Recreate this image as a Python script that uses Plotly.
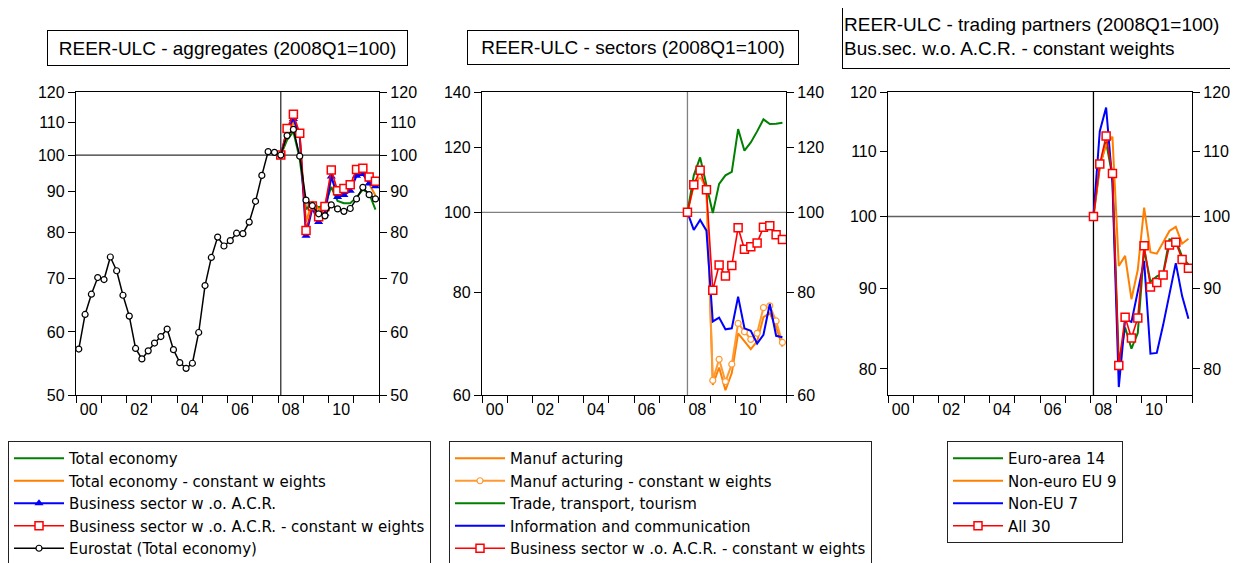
import plotly.graph_objects as go
import math

FONT = "Liberation Sans, Arial, sans-serif"
LEGFONT = "DejaVu Sans, Liberation Sans, sans-serif"
# the page body adds an 8px margin, so the figure is drawn 8px smaller and all
# pixel positions below are measured from the page origin minus that offset
OFF = 8
W, H = 1238 - OFF, 563 - OFF

# ---------------- data ----------------
quarters_all = [f"{y}Q{q}" for y in range(2000, 2012) for q in range(1, 5)]
quarters_post = quarters_all[32:]  # 2008Q1 .. 2011Q4

# Panel 1: REER-ULC aggregates
eurostat_total = [57.1, 63.1, 66.9, 70.2, 69.8, 74.5, 71.6, 66.7, 62.8, 57.2, 55.5, 56.8,
                  58.1, 59.2, 60.5, 57.0, 54.9, 54.0, 54.8, 59.9, 68.6, 74.4, 78.9, 76.9,
                  78.1, 79.8, 79.7, 82.4, 87.5, 94.3, 101.0, 100.8, 100.0, 105.8, 107.7, 99.7,
                  87.8, 86.4, 84.4, 83.9, 86.6, 85.6, 85.0, 85.7, 88.1, 91.1, 89.2, 88.1]
total_economy = [100, 104.5, 107.0, 99.0, 85.5, 87.0, 86.0, 86.5, 91.2, 87.6, 87.0, 87.0,
                 88.5, 90.5, 89.5, 85.4]
total_economy_cw = [100, 106.0, 110.0, 105.5, 82.5, 87.5, 85.5, 86.5, 93.5, 90.5, 91.0, 91.0,
                    94.5, 95.0, 92.0, 89.0]
business = [100, 107.5, 111.0, 106.0, 79.2, 85.8, 82.4, 84.4, 94.0, 88.6, 89.1, 90.2,
            94.2, 94.7, 92.1, 91.4]
business_cw = [100, 108.0, 112.5, 106.5, 80.4, 86.3, 83.7, 86.2, 95.8, 90.2, 90.8, 91.8,
               95.9, 96.3, 93.9, 92.7]

# Panel 2: REER-ULC sectors
manufacturing = [100, 108.0, 110.5, 107.0, 61.7, 64.8, 60.8, 63.8, 71.3, 69.7, 68.2, 69.7,
                 74.6, 75.4, 72.6, 68.7]
manufacturing_cw = [100, 108.5, 111.0, 106.5, 62.5, 66.3, 62.3, 65.4, 73.3, 71.6, 70.1, 71.3,
                    76.6, 77.0, 73.8, 69.5]
trade_transport = [100, 110.9, 116.6, 107.5, 99.8, 108.3, 110.9, 112.0, 126.2, 118.8, 121.6, 125.4,
                   129.7, 128.0, 128.1, 128.5]
info_comm = [100, 95.2, 97.9, 95.0, 73.7, 74.5, 72.1, 72.3, 79.0, 72.3, 71.8, 69.3,
             71.0, 77.4, 70.8, 70.5]

# Panel 3: trading partners (business sector w.o. A.C.R., constant weights)
euro_area_14 = [100, 107.5, 111.5, 106.0, 80.6, 85.0, 82.4, 84.3, 95.3, 90.9, 91.6, 92.0,
                96.7, 96.6, 94.3, 93.2]
non_euro_eu_9 = [100, 107.8, 111.0, 112.4, 93.0, 94.4, 88.6, 92.5, 101.3, 94.9, 94.7, 96.3,
                 97.9, 98.5, 96.1, 96.8]
non_eu_7 = [100, 113.3, 117.3, 105.0, 77.9, 86.0, 85.7, 89.4, 93.7, 81.8, 81.9, 85.3,
            89.2, 93.4, 89.0, 86.1]
all_30 = business_cw

year_ticks = list(range(2000, 2013))
label_years = list(range(2000, 2012, 2))
y_ticks = [[50, 60, 70, 80, 90, 100, 110, 120], [60, 80, 100, 120, 140], [80, 90, 100, 110, 120]]
y_ranges = [(50, 120), (60, 140), (77.0, 120)]
titles = ["REER-ULC - aggregates (2008Q1=100)",
          "REER-ULC - sectors (2008Q1=100)",
          "REER-ULC - trading partners (2008Q1=100)<br>Bus.sec. w.o. A.C.R. - constant weights"]


def qpos(label):
    y = int(label[:4]); q = int(label[-1])
    return y + (q - 1) / 4 + 0.11


x_all = [qpos(q) for q in quarters_all]
x_post = [qpos(q) for q in quarters_post]
x_ref = qpos("2008Q1")

GREEN, ORANGE, ORANGE2, BLUE, RED, BLACK = "#008000", "#FF8000", "#FF9A33", "#0000FF", "#FF0000", "#000000"

fig = go.Figure()


def ax_names(ax):
    s = "" if ax == 1 else str(ax)
    return f"x{s}", f"y{s}"


def add(name, x, y, ax, color, legend, width=2.0, marker=None):
    xa, ya = ax_names(ax)
    kw = dict(x=x, y=y, name=name, mode="lines+markers" if marker else "lines",
              xaxis=xa, yaxis=ya, legend=legend, line=dict(color=color, width=width))
    if marker:
        kw["marker"] = marker
    fig.add_trace(go.Scatter(**kw))


sq = dict(symbol="square", size=8, color="white", line=dict(color=RED, width=1.5))
# panel 1
add("Total economy", x_post, total_economy, 1, GREEN, "legend")
add("Total economy - constant w eights", x_post, total_economy_cw, 1, ORANGE, "legend")
add("Business sector w .o. A.C.R.", x_post, business, 1, BLUE, "legend",
    marker=dict(symbol="triangle-up", size=8, color=BLUE))
add("Business sector w .o. A.C.R. - constant w eights", x_post, business_cw, 1, RED, "legend",
    width=1.6, marker=sq)
add("Eurostat (Total economy)", x_all, eurostat_total, 1, BLACK, "legend", width=1.5,
    marker=dict(symbol="circle", size=6, color="white", line=dict(color=BLACK, width=1.2)))
# panel 2
add("Manuf acturing", x_post, manufacturing, 2, ORANGE, "legend2")
add("Manuf acturing - constant w eights", x_post, manufacturing_cw, 2, ORANGE2, "legend2",
    marker=dict(symbol="circle", size=6, color="white", line=dict(color=ORANGE2, width=1.2)))
add("Trade, transport, tourism", x_post, trade_transport, 2, GREEN, "legend2")
add("Information and communication", x_post, info_comm, 2, BLUE, "legend2")
add("Business sector w .o. A.C.R. - constant w eights", x_post, business_cw, 2, RED, "legend2",
    width=1.6, marker=sq)
# panel 3
add("Euro-area 14", x_post, euro_area_14, 3, GREEN, "legend3")
add("Non-euro EU 9", x_post, non_euro_eu_9, 3, ORANGE, "legend3")
add("Non-EU 7", x_post, non_eu_7, 3, BLUE, "legend3")
add("All 30", x_post, all_30, 3, RED, "legend3", width=1.6, marker=sq)

# transparent copies so that the right-hand (mirror) value axes are drawn
for n, series in zip((1, 2, 3), (business_cw, business_cw, all_30)):
    xa, _ = ax_names(n)
    fig.add_trace(go.Scatter(x=x_post, y=series, xaxis=xa, yaxis=f"y{n + 3}", mode="lines",
                             opacity=0, showlegend=False, hoverinfo="skip"))

# ---------------- layout ----------------
panels_px = [(76, 379), (482, 786), (888, 1192)]
top_px, bot_px = 92, 395
ydom = [1 - (bot_px - OFF) / H, 1 - (top_px - OFF) / H]
tickfont = dict(family=FONT, size=16, color="black")

layout = dict(width=W, height=H, autosize=False,
              margin=dict(l=0, r=0, t=0, b=0, autoexpand=False),
              paper_bgcolor="white", plot_bgcolor="white", showlegend=True)
shapes = []
annotations = []
for i, (x0, x1) in enumerate(panels_px):
    n = i + 1
    sfx = "" if n == 1 else str(n)
    lo, hi = y_ranges[i]
    yr = [math.log10(lo), math.log10(hi)]
    layout[f"xaxis{sfx}"] = dict(
        domain=[(x0 - OFF) / W, (x1 - OFF) / W], anchor=f"y{sfx}", range=[2000, 2012],
        tickmode="array", tickvals=[y + 0.5 for y in label_years],
        ticktext=[f"{y % 100:02d}" for y in label_years], ticks="", tickfont=tickfont,
        showline=True, linecolor="black", linewidth=1.3, mirror=True, showgrid=False,
        zeroline=False,
        minor=dict(tickmode="array", tickvals=year_ticks, ticks="outside", ticklen=7,
                   tickcolor="black", tickwidth=1.2, showgrid=False))
    common_y = dict(type="log", range=yr, tickmode="array", tickvals=y_ticks[i],
                    ticktext=[str(v) for v in y_ticks[i]], ticks="outside", ticklen=7,
                    tickwidth=1.2, tickcolor="black", tickfont=tickfont, showline=True,
                    linecolor="black", linewidth=1.3, showgrid=False, zeroline=False)
    layout[f"yaxis{sfx}"] = dict(domain=ydom, anchor=f"x{sfx}", **common_y)
    layout[f"yaxis{n + 3}"] = dict(overlaying=f"y{sfx}", anchor=f"x{sfx}", side="right",
                                   **common_y)
    ref_col = ["#303030", "#808080", "#606060"][i]
    vcol = ["#303030", "#808080", "#000000"][i]
    shapes.append(dict(type="line", xref=f"x{sfx} domain", yref=f"y{sfx}", x0=0, x1=1,
                       y0=100, y1=100, line=dict(color=ref_col, width=1.3), layer="below"))
    shapes.append(dict(type="line", xref=f"x{sfx}", yref=f"y{sfx} domain", x0=x_ref, x1=x_ref,
                       y0=0, y1=1, line=dict(color=vcol, width=1.3), layer="below"))

# title boxes (centre x, centre y, width, height, alignment) in page pixels
title_boxes = [(227, 48, 357, 32, "center"), (632.5, 47.5, 328, 31, "center"),
               (1041, 36, 394, 61, "left")]
for (cx, cy, w, h, al), t in zip(title_boxes, titles):
    annotations.append(dict(text=t, xref="paper", yref="paper", x=(cx - OFF) / W,
                            y=1 - (cy - OFF) / H, xanchor="center", yanchor="middle",
                            showarrow=False, width=w, height=h, align=al, borderpad=1,
                            bordercolor="black", borderwidth=1, bgcolor="white",
                            font=dict(family=FONT, size=19, color="black")))

legfont = dict(family=LEGFONT, size=15, color="black")
for key, xp in [("legend", 8), ("legend2", 449), ("legend3", 947)]:
    layout[key] = dict(x=(xp - OFF) / W, y=1 - (441 - OFF) / H, xanchor="left", yanchor="top",
                       bordercolor="#222222", borderwidth=1, bgcolor="white", font=legfont,
                       tracegroupgap=0, itemwidth=50)

layout["shapes"] = shapes
layout["annotations"] = annotations
fig.update_layout(**layout)
fig.write_html("out.html")
